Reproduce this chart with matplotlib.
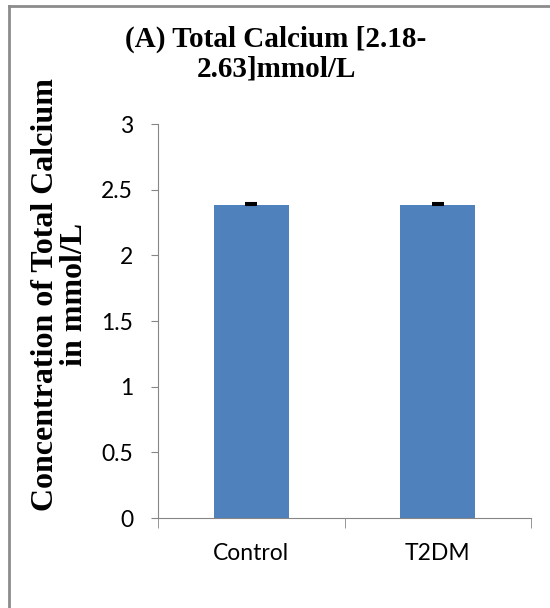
import matplotlib.pyplot as plt
import numpy as np
from matplotlib.lines import Line2D

# 総カルシウム濃度 (mmol/L)
groups = ['Control', 'T2DM']
means = [2.38, 2.38]
errors = [0.015, 0.015]
yticks = [0, 0.5, 1, 1.5, 2, 2.5, 3]

fig = plt.figure(figsize=(5.5, 6.08), dpi=100)
ax = fig.add_axes([0.2873, 0.148, 0.6782, 0.648])

x = np.arange(len(groups))
ax.bar(x, means, width=0.4, color='#4f81bd', zorder=2)
ax.errorbar(x, means, yerr=[[0, 0], errors], fmt='none', ecolor='black',
            elinewidth=1.0, capsize=4.5, capthick=1.5, zorder=3)

ax.set_xlim(-0.5, 1.5)
ax.set_ylim(0, 3)
ax.set_yticks(yticks)
ax.set_yticklabels([f'{t:g}' for t in yticks], family='Lato', fontsize=16.5)
ax.set_xticks(x)
ax.set_xticklabels(groups, family='Lato', fontsize=16.5)
ax.tick_params(axis='x', length=0, pad=18)
ax.tick_params(axis='y', length=5, color='#868686', pad=13)

# カテゴリ境界の目盛り
ax.set_xticks([-0.5, 0.5, 1.5], minor=True)
ax.tick_params(axis='x', which='minor', length=7, color='#868686')

for s in ['top', 'right']:
    ax.spines[s].set_visible(False)
for s in ['left', 'bottom']:
    ax.spines[s].set_color('#868686')

# タイトルと縦軸ラベル
fig.text(0.502, 0.911, '(A) Total Calcium [2.18-\n2.63]mmol/L', ha='center', va='center',
         family='Liberation Serif', fontweight='bold', fontsize=21, linespacing=1.12)
fig.text(0.109, 0.516, 'Concentration of Total Calcium\nin mmol/L', ha='center', va='center',
         rotation=90, family='Liberation Serif', fontweight='bold', fontsize=23,
         linespacing=1.0)

# グラフ枠線
fig.add_artist(Line2D([9/550, 9/550], [0, 1 - 6/608], color='#8c8c8c', lw=2,
                      transform=fig.transFigure))
fig.add_artist(Line2D([9/550, 1], [1 - 6/608, 1 - 6/608], color='#8c8c8c', lw=2,
                      transform=fig.transFigure))

plt.savefig('out.png', dpi=100)
